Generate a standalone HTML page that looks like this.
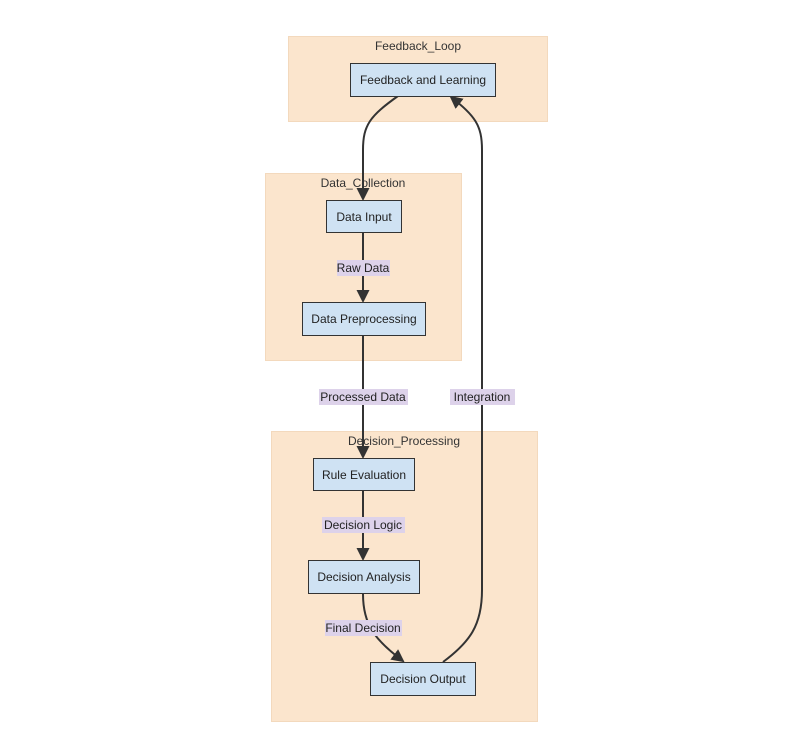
<!DOCTYPE html>
<html><head><style>body{margin:0;background:#fff}svg{display:block;font-family:"Liberation Sans",sans-serif}</style></head><body>
<svg width="811" height="747" viewBox="0 0 811 747" xmlns="http://www.w3.org/2000/svg">
<defs><marker id="a" markerWidth="13" markerHeight="13" refX="11" refY="6.5" orient="auto" markerUnits="userSpaceOnUse"><path d="M0,0L13,6.5L0,13z" fill="#333"/></marker></defs>
<g fill="#fbe5cd" stroke="#f3d9bd" stroke-width="1">
<rect x="288.5" y="36.5" width="259" height="85"/>
<rect x="265.5" y="173.5" width="196" height="187"/>
<rect x="271.5" y="431.5" width="266" height="290"/>
</g>
<g font-size="12" fill="#333" text-anchor="middle">
<text x="418" y="50">Feedback_Loop</text>
<text x="363" y="187">Data_Collection</text>
<text x="404" y="445">Decision_Processing</text>
</g>
<g fill="none" stroke="#333" stroke-width="2">
<path d="M398,96 C370,116 363,125 363,150 L363,199" marker-end="url(#a)"/>
<path d="M363,233 L363,301" marker-end="url(#a)"/>
<path d="M363,336 L363,457" marker-end="url(#a)"/>
<path d="M363,491 L363,559" marker-end="url(#a)"/>
<path d="M363,594 C363,625 375,640 403,661" marker-end="url(#a)"/>
<path d="M443,662 C470,642 482,625 482,590 L482,150 C482,125 475,116 451,97" marker-end="url(#a)"/>
</g>
<g fill="#cfe2f3" stroke="#333" stroke-width="1">
<rect x="350.5" y="63.5" width="145" height="33"/>
<rect x="326.5" y="200.5" width="75" height="32"/>
<rect x="302.5" y="302.5" width="123" height="33"/>
<rect x="313.5" y="458.5" width="101" height="32"/>
<rect x="308.5" y="560.5" width="111" height="33"/>
<rect x="370.5" y="662.5" width="105" height="33"/>
</g>
<g fill="#ddd2ea">
<rect x="337" y="260" width="53" height="16"/>
<rect x="319" y="389" width="89" height="16"/>
<rect x="450" y="389" width="65" height="16"/>
<rect x="322" y="517" width="83" height="16"/>
<rect x="325" y="620" width="77" height="16"/>
</g>
<g font-size="12" fill="#222" text-anchor="middle">
<text x="423" y="84">Feedback and Learning</text>
<text x="364" y="221">Data Input</text>
<text x="364" y="323">Data Preprocessing</text>
<text x="364" y="479">Rule Evaluation</text>
<text x="364" y="581">Decision Analysis</text>
<text x="423" y="683">Decision Output</text>
<text x="363" y="272">Raw Data</text>
<text x="363" y="401">Processed Data</text>
<text x="482" y="401">Integration</text>
<text x="363" y="529">Decision Logic</text>
<text x="363" y="632">Final Decision</text>
</g>
</svg>
</body></html>
